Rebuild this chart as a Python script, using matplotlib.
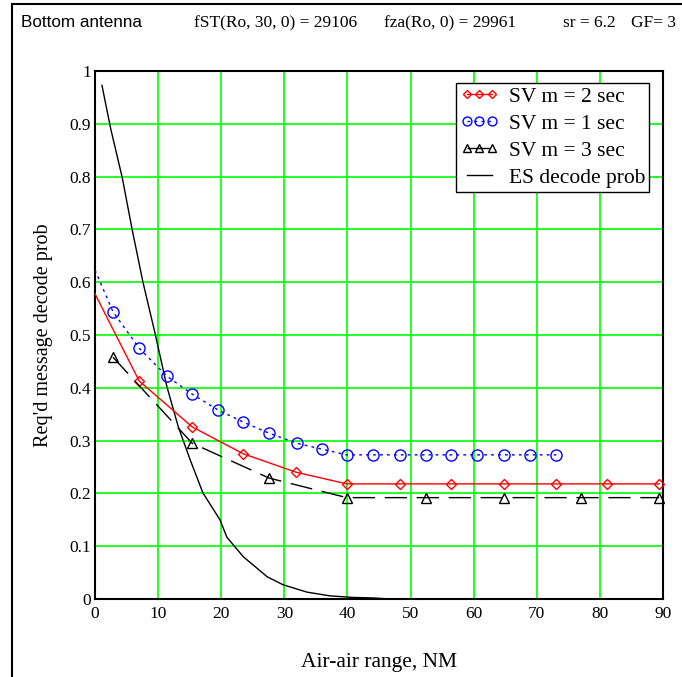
import matplotlib
matplotlib.use("Agg")
import matplotlib.pyplot as plt
from matplotlib.lines import Line2D

# SV m = 2 sec (red, diamonds)
x_m2 = [0.0, 7.0, 15.4, 23.5, 31.9, 39.9, 48.3, 56.4, 64.8, 73.1, 81.1, 89.4]
y_m2 = [0.578, 0.413, 0.326, 0.275, 0.240, 0.218, 0.218, 0.218, 0.218, 0.218, 0.218, 0.218]

# SV m = 1 sec (blue, circles)
x_m1 = [0.0, 2.85, 7.0, 11.4, 15.4, 19.5, 23.5, 27.6, 32.0, 35.9, 39.9, 44.1, 48.3,
        52.5, 56.4, 60.5, 64.8, 68.9, 73.1]
y_m1 = [0.623, 0.544, 0.475, 0.422, 0.388, 0.358, 0.335, 0.314, 0.295, 0.284, 0.273,
        0.273, 0.273, 0.273, 0.273, 0.273, 0.273, 0.273, 0.273]

# SV m = 3 sec (black, triangles)
x_m3 = [2.85, 15.4, 27.6, 39.9, 52.5, 64.8, 77.0, 89.4]
y_m3 = [0.458, 0.295, 0.229, 0.192, 0.192, 0.192, 0.192, 0.192]

# ES decode prob
x_es = [1.1, 2.5, 4.3, 5.9, 7.6, 9.5, 11.4, 13.2, 15.1, 17.1, 19.8, 20.9, 23.5,
        27.3, 29.8, 33.6, 37.2, 40.9, 44.0, 47.0, 90.0]
y_es = [0.973, 0.890, 0.799, 0.699, 0.600, 0.504, 0.402, 0.326, 0.263, 0.201, 0.150,
        0.117, 0.080, 0.042, 0.027, 0.013, 0.006, 0.003, 0.002, 0.0, 0.0]

x_ticks = [0, 10, 20, 30, 40, 50, 60, 70, 80, 90]
y_ticks = [0, 0.1, 0.2, 0.3, 0.4, 0.5, 0.6, 0.7, 0.8, 0.9, 1]
y_tick_labels = ["0", "0.1", "0.2", "0.3", "0.4", "0.5", "0.6", "0.7", "0.8", "0.9", "1"]

serif = "Liberation Serif"
sans = "Liberation Sans"

fig = plt.figure(figsize=(6.82, 6.77), dpi=100)
ax = fig.add_axes([0.1393, 0.1152, 0.8328, 0.7799])

ax.plot(x_m2, y_m2, color="red", lw=1.0, marker="D", ms=5, mfc="none", mec="red",
        mew=1.0, markevery=list(range(1, len(x_m2))), label="SV m = 2 sec", clip_on=False, zorder=4)
ax.plot(x_m1, y_m1, color="blue", lw=1.0, dashes=(2, 3), marker="o", ms=8, mfc="none",
        mec="blue", mew=1.0, markevery=list(range(1, len(x_m1))), label="SV m = 1 sec", zorder=4)
ax.plot(x_m3, y_m3, color="black", lw=1.0, dashes=(16, 7), marker="^", ms=7, mfc="none",
        mec="black", mew=1.0, label="SV m = 3 sec", clip_on=False, zorder=4)
ax.plot(x_es, y_es, color="black", lw=1.0, label="ES decode prob", zorder=3)

ax.set_xlim(0, 90)
ax.set_ylim(0, 1)
ax.set_xticks(x_ticks)
ax.set_yticks(y_ticks)
ax.set_yticklabels(y_tick_labels)
ax.tick_params(length=0, labelsize=12.5)
ax.tick_params(axis="x", pad=5)
ax.tick_params(axis="y", pad=3)
for lab in ax.get_xticklabels() + ax.get_yticklabels():
    lab.set_fontfamily(serif)
ax.grid(True, color="#00ff00", lw=1.2)
ax.set_axisbelow(True)
for sp in ax.spines.values():
    sp.set_linewidth(1.5)
    sp.set_color("black")

ax.set_xlabel("Air-air range, NM", fontfamily=serif, fontsize=15.5, labelpad=22)
ax.set_ylabel("Req'd message decode prob", fontfamily=serif, fontsize=14.5, labelpad=12)

leg = ax.legend(loc="upper right", bbox_to_anchor=(0.976, 0.978), numpoints=3,
                prop={"family": serif, "size": 15.5}, fancybox=False, framealpha=1,
                edgecolor="black", borderpad=0.2, labelspacing=0.32, markerscale=0.8,
                handlelength=1.8, handletextpad=0.45, borderaxespad=0)
leg.get_frame().set_linewidth(1.0)

# outer frame (left and top edges)
fig.add_artist(Line2D([0.0169, 0.0169], [0.0, 0.994], color="black", lw=1.5))
fig.add_artist(Line2D([0.0169, 1.0], [0.994, 0.994], color="black", lw=1.5))

# header
hy = 1 - 27 / 677
fig.text(21 / 682, hy, "Bottom antenna", fontfamily=sans, fontsize=12.3, va="baseline")
fig.text(194 / 682, hy, "fST(Ro, 30, 0) = 29106", fontfamily=serif, fontsize=12.5, va="baseline")
fig.text(384 / 682, hy, "fza(Ro, 0) = 29961", fontfamily=serif, fontsize=12.5, va="baseline")
fig.text(563 / 682, hy, "sr = 6.2", fontfamily=serif, fontsize=12.5, va="baseline")
fig.text(676 / 682, hy, "GF= 3", fontfamily=serif, fontsize=12.5, va="baseline", ha="right")

fig.savefig("out.png", dpi=100)
